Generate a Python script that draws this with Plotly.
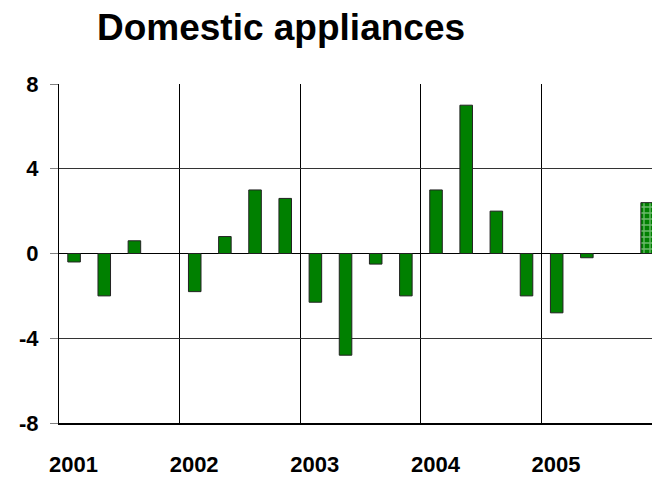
import plotly.graph_objects as go

years = ["2001", "2002", "2003", "2004", "2005"]
quarters = [1, 2, 3, 4]
values = [
    -0.4, -2.0, 0.6, None,
    -1.8, 0.8, 3.0, 2.6,
    -2.3, -4.8, -0.5, -2.0,
    3.0, 7.0, 2.0, -2.0,
    -2.8, -0.2, None, None,
]
forecast_year = 4  # index of 2005
forecast_quarter = 4
forecast_value = 2.4
yticks = [-8, -4, 0, 4, 8]

W, H = 652, 477
ML, MR, MT, MB = 59, 0, 84, 54
year_px = 120.65
x_end = (W - ML) / year_px

xs = []
for yi in range(len(years)):
    for q in quarters:
        xs.append(yi + (q - 0.5) / 4)

bar_w = 0.104
font = "Liberation Sans, Arial, sans-serif"

fig = go.Figure()
fig.add_trace(go.Bar(
    x=xs, y=values, width=bar_w,
    marker=dict(color="#008000", line=dict(color="#222222", width=1)),
    showlegend=False,
))
fig.add_trace(go.Bar(
    x=[forecast_year + (forecast_quarter - 0.5) / 4], y=[forecast_value], width=bar_w,
    marker=dict(color="#008000", line=dict(color="#222222", width=1),
                pattern=dict(shape="+", fgcolor="#d8f5d8", bgcolor="#008000", size=6, solidity=0.4)),
    showlegend=False,
))

fig.update_layout(
    width=W, height=H,
    margin=dict(l=ML, r=MR, t=MT, b=MB, pad=0),
    paper_bgcolor="white", plot_bgcolor="white",
    barmode="overlay",
    title=dict(text="<b>Domestic appliances</b>", x=281 / W, xanchor="center",
               y=1 - 27 / H, yanchor="middle", xref="container", yref="container",
               font=dict(family=font, size=37, color="black")),
    font=dict(family=font, color="black"),
)
fig.update_xaxes(
    range=[0, x_end],
    tickmode="array",
    tickvals=[i + 0.12 for i in range(len(years))],
    ticktext=["<b>%s</b>" % y for y in years],
    tickfont=dict(family=font, size=22, color="black"),
    ticks="", showgrid=False, zeroline=False,
    ticklabelstandoff=21,
    showline=True, linecolor="black", linewidth=2,
    minor=dict(tickmode="array", tickvals=list(range(len(years))),
               showgrid=True, gridcolor="black", gridwidth=1, ticks=""),
)
fig.update_yaxes(
    range=[-8, 8],
    tickmode="array", tickvals=yticks,
    ticktext=["<b>%d</b>" % v for v in yticks],
    tickfont=dict(family=font, size=22, color="black"),
    ticks="outside", ticklen=8, tickcolor="#808080", tickwidth=1,
    ticklabelstandoff=7,
    showgrid=True, gridcolor="#333333", gridwidth=1,
    zeroline=True, zerolinecolor="black", zerolinewidth=1,
    showline=True, linecolor="black", linewidth=1,
)

fig.write_html("out.html")
